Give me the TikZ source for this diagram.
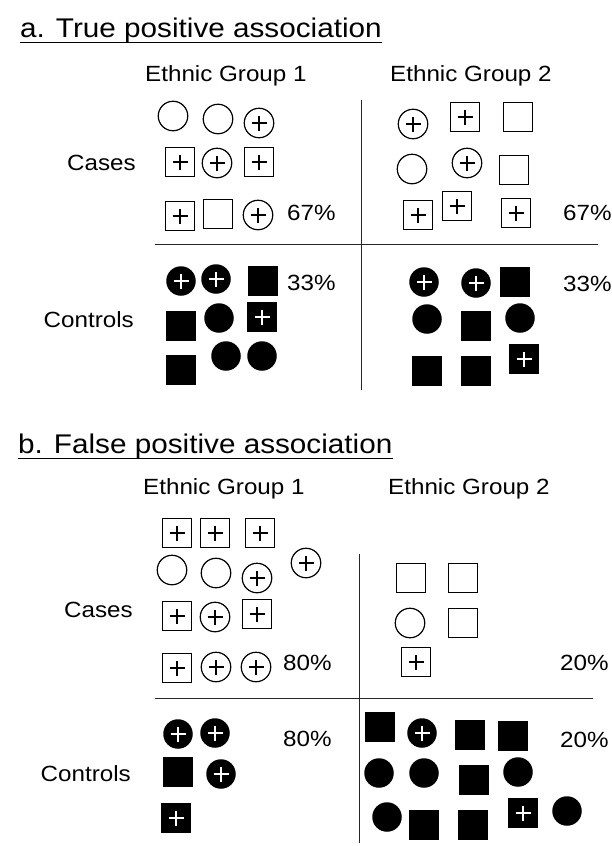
\documentclass[tikz,border=0pt]{standalone}
\usepackage{fontspec}
\setmainfont{Liberation Sans}[FakeStretch=1.1]
\usepackage{tikz}
\usetikzlibrary{positioning}

\tikzset{
  sym/.style={minimum size=29.5pt, inner sep=0pt, line width=1.2pt},
  carrier/.style={path picture={
      \draw[line width=1.8pt, #1]
        ([xshift=-7.5pt]path picture bounding box.center) -- ++(15pt,0)
        ([yshift=-7.5pt]path picture bounding box.center) -- ++(0,15pt);}},
  osq/.style={sym, rectangle, draw},
  ocirc/.style={sym, circle, draw},
  fsq/.style={sym, rectangle, fill},
  fcirc/.style={sym, circle, fill},
  osqp/.style={osq, carrier=black},
  ocircp/.style={ocirc, carrier=black},
  fsqp/.style={fsq, carrier=white},
  fcircp/.style={fcirc, carrier=white},
  lbl/.style={font=\fontsize{22}{26}\selectfont, inner sep=0pt},
  ttl/.style={font=\fontsize{27}{32}\selectfont, inner sep=0pt},
  grid/.style={line width=1pt, black!85}
}

\begin{document}
\begin{tikzpicture}[x=1pt, y=-1pt]
  \useasboundingbox[fill=white] (0,0) rectangle (611,846);

  % a. true positive
  \node[ttl, anchor=base west] (titlea) at (20,37) {a. True positive association};
  \draw[line width=1pt] ([yshift=-5pt]titlea.base west) -- ([yshift=-5pt]titlea.base east);
  \node[lbl, anchor=base west] (a1head) at (145,81) {Ethnic Group 1};
  \node[lbl, anchor=base west] (a2head) at (390,81) {Ethnic Group 2};
  \node[lbl, anchor=east] (acases) at (136,163) {Cases};
  \node[lbl, anchor=east] (actrls) at (134,320) {Controls};

  \coordinate (avtop) at (361,100);
  \coordinate (avbot) at (361,390);
  \coordinate (ahl) at (155,244);
  \coordinate (ahr) at (598,244);
  \draw[grid] (avtop) -- (avbot);
  \draw[grid] (ahl) -- (ahr);

  \foreach \s/\x/\y [count=\i] in {ocirc/173/116, ocirc/218/119, ocircp/259/123,
      osqp/180/162, ocircp/217/163, osqp/259/162,
      osqp/180/216, osq/218/214, ocircp/258/215}
    \node[\s] (a1case\i) at (\x,\y) {};
  \foreach \s/\x/\y [count=\i] in {ocircp/413/124, osqp/465/117, osq/518/117,
      ocirc/412/169, ocircp/467/163, osq/514/170,
      osqp/418/215, osqp/457/206, osqp/516/213}
    \node[\s] (a2case\i) at (\x,\y) {};
  \foreach \s/\x/\y [count=\i] in {fcircp/181/281, fcircp/216/279, fsq/263/281,
      fsq/181/326, fcirc/219/318, fsqp/262/317,
      fsq/181/370, fcirc/226/356, fcirc/262/356}
    \node[\s] (a1ctrl\i) at (\x,\y) {};
  \foreach \s/\x/\y [count=\i] in {fcircp/424/282, fcircp/476/283, fsq/515/282,
      fcirc/427/319, fsq/476/326, fcirc/520/318,
      fsq/427/371, fsq/476/371, fsqp/524/359}
    \node[\s] (a2ctrl\i) at (\x,\y) {};

  \node[lbl, anchor=west] (a1casepc) at (287,213) {67\%};
  \node[lbl, anchor=west] (a2casepc) at (563,213) {67\%};
  \node[lbl, anchor=west] (a1ctrlpc) at (287,283) {33\%};
  \node[lbl, anchor=west] (a2ctrlpc) at (563,284) {33\%};

  % b. false positive
  \node[ttl, anchor=base west] (titleb) at (18,453) {b. False positive association};
  \draw[line width=1pt] ([yshift=-5pt]titleb.base west) -- ([yshift=-5pt]titleb.base east);
  \node[lbl, anchor=base west] (b1head) at (143,494) {Ethnic Group 1};
  \node[lbl, anchor=base west] (b2head) at (388,494) {Ethnic Group 2};
  \node[lbl, anchor=east] (bcases) at (133,610) {Cases};
  \node[lbl, anchor=east] (bctrls) at (131,774) {Controls};

  \coordinate (bvtop) at (359,554);
  \coordinate (bvbot) at (359,843);
  \coordinate (bhl) at (155,698);
  \coordinate (bhr) at (593,698);
  \draw[grid] (bvtop) -- (bvbot);
  \draw[grid] (bhl) -- (bhr);

  \foreach \s/\x/\y [count=\i] in {osqp/177/533, osqp/215/533, osqp/260/533,
      ocirc/172/570, ocirc/216/573, ocircp/257/578, ocircp/306/563,
      osqp/177/616, ocircp/215/617, osqp/257/614,
      osqp/177/668, ocircp/216/667, ocircp/256/667}
    \node[\s] (b1case\i) at (\x,\y) {};
  \foreach \s/\x/\y [count=\i] in {osq/411/578, osq/463/578,
      ocirc/410/623, osq/463/623, osqp/416/662}
    \node[\s] (b2case\i) at (\x,\y) {};
  \foreach \s/\x/\y [count=\i] in {fcircp/178/734, fcircp/215/733,
      fsq/178/772, fcircp/221/774, fsqp/176/818}
    \node[\s] (b1ctrl\i) at (\x,\y) {};
  \foreach \s/\x/\y [count=\i] in {fsq/380/727, fcircp/422/733, fsq/470/735, fsq/513/736,
      fcirc/379/773, fcirc/424/773, fsq/474/780, fcirc/518/772,
      fcirc/387/817, fsq/424/825, fsq/473/825, fsqp/523/813, fcirc/567/811}
    \node[\s] (b2ctrl\i) at (\x,\y) {};

  \node[lbl, anchor=west] (b1casepc) at (283,663) {80\%};
  \node[lbl, anchor=west] (b2casepc) at (560,663) {20\%};
  \node[lbl, anchor=west] (b1ctrlpc) at (283,739) {80\%};
  \node[lbl, anchor=west] (b2ctrlpc) at (560,740) {20\%};
\end{tikzpicture}
\end{document}
